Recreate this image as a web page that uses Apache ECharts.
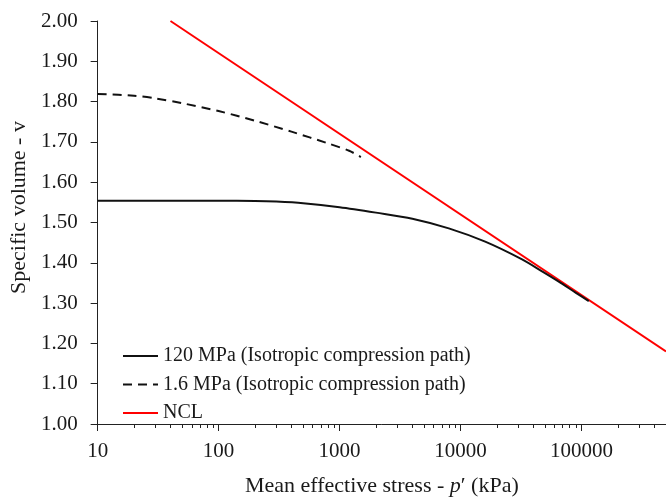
<!DOCTYPE html>
<html>
<head>
<meta charset="utf-8">
<script src="https://cdn.jsdelivr.net/npm/echarts@6/dist/echarts.min.js"></script>
<style>
  html, body { margin: 0; padding: 0; background: #fff; }
  #chart { width: 666px; height: 502px; }
</style>
</head>
<body>
<div id="chart"></div>
<script>
// Isotropic compression paths in v - log p' space, with the normal compression line
const seriesNames = [
  '120 MPa (Isotropic compression path)',
  '1.6 MPa (Isotropic compression path)',
  'NCL'
];

// 120 MPa path (kPa, specific volume)
const pressure120 = [10, 100, 200, 300, 500, 1000, 2000, 4000, 8000, 16000, 32000, 48000, 64000, 90000, 115000];
const volume120   = [1.554, 1.554, 1.5535, 1.552, 1.548, 1.538, 1.5245, 1.5095, 1.4855, 1.4525, 1.409, 1.3775, 1.3545, 1.3255, 1.305];

// 1.6 MPa path
const pressure16 = [10, 20, 30, 50, 100, 200, 400, 800, 1200, 1500];
const volume16   = [1.819, 1.8145, 1.808, 1.796, 1.7765, 1.7525, 1.7255, 1.6965, 1.678, 1.6625];

// Normal compression line
const pressureNcl = [40, 500000];
const volumeNcl   = [2.00, 1.18];

// Axis ticks
const xMajorTicks = [10, 100, 1000, 10000, 100000];
const yTickLabels = ['1.00', '1.10', '1.20', '1.30', '1.40', '1.50', '1.60', '1.70', '1.80', '1.90', '2.00'];
const xMinorTicks = [];
for (const d of xMajorTicks) {
  for (let k = 2; k <= 9; k++) xMinorTicks.push(d * k);
}

const pairs = (xs, ys) => xs.map((x, i) => [x, ys[i]]);

const FONT = "'Liberation Serif', 'Times New Roman', serif";
const INK = '#1a1a1a';

const chart = echarts.init(document.getElementById('chart'), null, { renderer: 'canvas' });

chart.setOption({
  animation: false,
  backgroundColor: '#ffffff',
  grid: { left: 97, top: 21, width: 571, height: 414, containLabel: false },
  legend: {
    orient: 'vertical',
    left: 122,
    top: 346,
    padding: 0,
    itemWidth: 35,
    itemHeight: 14,
    itemGap: 8.5,
    itemStyle: { opacity: 0 },
    data: seriesNames,
    textStyle: { fontFamily: FONT, fontSize: 20, lineHeight: 20, color: INK }
  },
  xAxis: [
    {
      type: 'log',
      logBase: 10,
      min: 10,
      max: 500000,
      position: 'bottom',
      name: '{t|Mean effective stress - }{i|p}{t|′ (kPa)}',
      nameLocation: 'middle',
      nameGap: 51,
      nameTextStyle: {
        rich: {
          t: { fontFamily: FONT, fontSize: 22, color: INK },
          i: { fontFamily: FONT, fontSize: 22, fontStyle: 'italic', color: INK }
        }
      },
      axisLine: { show: true, lineStyle: { color: '#222', width: 1 } },
      axisTick: { show: true, inside: false, length: 7, lineStyle: { color: '#222', width: 1 } },
      axisLabel: {
        margin: 17,
        fontFamily: FONT,
        fontSize: 21,
        color: INK,
        showMaxLabel: false,
        formatter: (v) => (xMajorTicks.includes(Math.round(v)) ? String(Math.round(v)) : '')
      },
      splitLine: { show: false },
      minorTick: { show: false }
    },
    {
      // log-spaced minor ticks (2..9 in each decade)
      type: 'log',
      logBase: 10,
      min: 10,
      max: 500000,
      position: 'bottom',
      axisLine: { show: false },
      axisLabel: { show: false },
      axisTick: {
        show: true,
        inside: false,
        length: 4,
        customValues: xMinorTicks,
        lineStyle: { color: '#222', width: 1 }
      },
      splitLine: { show: false }
    }
  ],
  yAxis: {
    type: 'value',
    min: 1,
    max: 2,
    interval: 0.1,
    name: 'Specific volume - v',
    nameLocation: 'middle',
    nameGap: 66,
    nameTextStyle: { fontFamily: FONT, fontSize: 22, color: INK, padding: [0, 0, 0, 30] },
    axisLine: { show: true, lineStyle: { color: '#222', width: 1 } },
    axisTick: { show: true, inside: false, length: 7, lineStyle: { color: '#222', width: 1 } },
    axisLabel: {
      margin: 20,
      fontFamily: FONT,
      fontSize: 21,
      color: INK,
      formatter: (v) => yTickLabels[Math.round((v - 1) * 10)] ?? v.toFixed(2)
    },
    splitLine: { show: false }
  },
  series: [
    {
      name: seriesNames[2],
      type: 'line',
      xAxisIndex: 0,
      data: pairs(pressureNcl, volumeNcl),
      symbol: 'none',
      z: 1,
      lineStyle: { color: '#ff0000', width: 2 },
      itemStyle: { color: '#ff0000' }
    },
    {
      name: seriesNames[1],
      type: 'line',
      xAxisIndex: 0,
      data: pairs(pressure16, volume16),
      symbol: 'none',
      smooth: 0.3,
      z: 2,
      lineStyle: { color: '#111', width: 2, type: [9, 6] },
      itemStyle: { color: '#111' }
    },
    {
      name: seriesNames[0],
      type: 'line',
      xAxisIndex: 0,
      data: pairs(pressure120, volume120),
      symbol: 'none',
      smooth: 0.3,
      z: 3,
      lineStyle: { color: '#111', width: 2 },
      itemStyle: { color: '#111' }
    }
  ]
});
</script>
</body>
</html>
